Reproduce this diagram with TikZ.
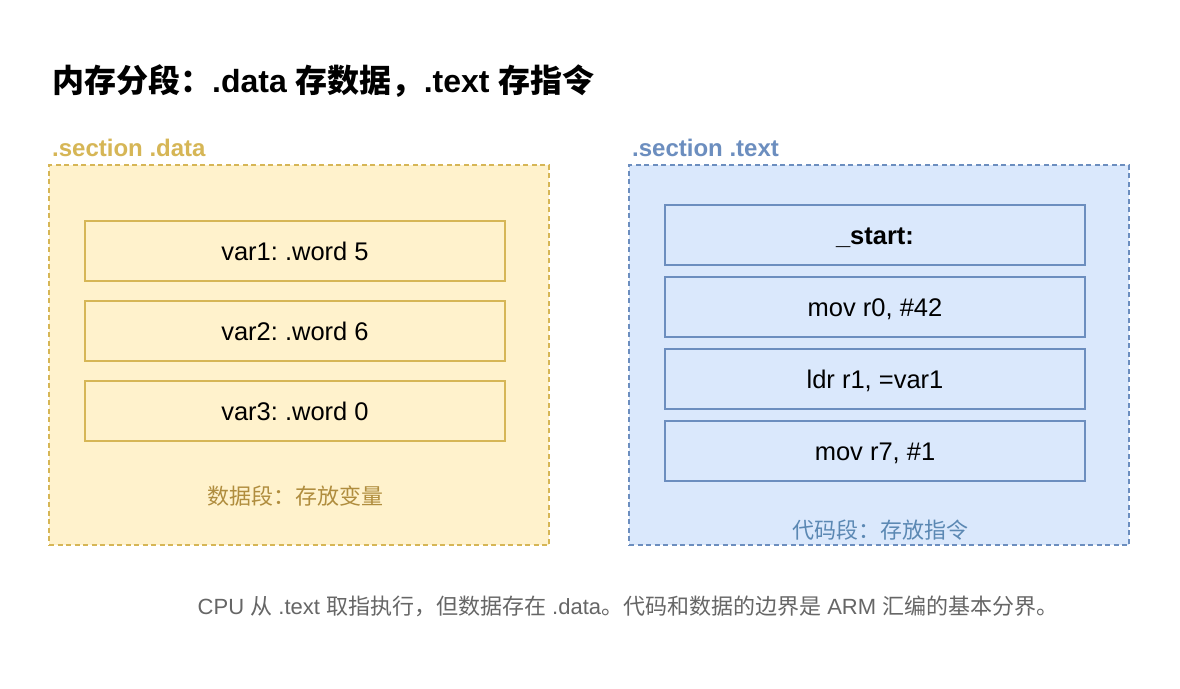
\documentclass[tikz,border=0pt]{standalone}
\usepackage{fontspec}
\setmainfont{Liberation Sans}
\newfontfamily\cjk{Noto Sans CJK SC}
\definecolor{datafill}{HTML}{FFF2CC}
\definecolor{dataline}{HTML}{D6B656}
\definecolor{datanote}{HTML}{B08D3E}
\definecolor{textfill}{HTML}{DAE8FC}
\definecolor{textline}{HTML}{6C8EBF}
\definecolor{textnote}{HTML}{5B88B3}
\definecolor{capgray}{HTML}{666666}
\frenchspacing

\begin{document}
\begin{tikzpicture}[x=1pt,y=-1pt,
  seg/.style={draw,dashed,dash pattern=on 5pt off 3.5pt,line width=1.3pt,minimum width=500pt,minimum height=380pt,inner sep=0pt},
  cell/.style={draw,line width=1.3pt,minimum width=420pt,minimum height=60pt,inner sep=0pt,text height=23pt,text depth=5pt,font=\fontsize{25.5}{30}\selectfont},
  seglabel/.style={anchor=base west,inner sep=0pt,font=\fontsize{24}{28}\selectfont\bfseries}]
\useasboundingbox[fill=white] (0,0) rectangle (1180,688);
\node[anchor=base west,inner sep=0pt,font=\fontsize{32}{36}\selectfont\bfseries] (title) at (52,92)
  {{\cjk 内存分段：}.data {\cjk 存数据，}.text {\cjk 存指令}};

% data segment
\node[seg,draw=dataline,fill=datafill] (datasec) at (299,355) {};
\node[seglabel,text=dataline] (datalbl) at (52,156) {.section .data};
\node[cell,draw=dataline] (var1) at (295,251) {var1: .word 5};
\node[cell,draw=dataline] (var2) at (295,331) {var2: .word 6};
\node[cell,draw=dataline] (var3) at (295,411) {var3: .word 0};
\node[text=datanote,font=\fontsize{22}{26}\selectfont\cjk] (datanote) at (295,496) {数据段：存放变量};

% text segment
\node[seg,draw=textline,fill=textfill] (textsec) at (879,355) {};
\node[seglabel,text=textline] (textlbl) at (632,156) {.section .text};
\node[cell,draw=textline,font=\fontsize{25.5}{30}\selectfont\bfseries] (start) at (875,235) {\_start:};
\node[cell,draw=textline] (mov0) at (875,307) {mov r0, \#42};
\node[cell,draw=textline] (ldr1) at (875,379) {ldr r1, =var1};
\node[cell,draw=textline] (mov7) at (875,451) {mov r7, \#1};
\node[text=textnote,font=\fontsize{22}{26}\selectfont\cjk] (textnote) at (880,530) {代码段：存放指令};

\node[text=capgray,font=\fontsize{22}{26}\selectfont] (caption) at (628,606)
  {CPU {\cjk 从} .text {\cjk 取指执行，但数据存在} .data{\cjk 。代码和数据的边界是} ARM {\cjk 汇编的基本分界。}};
\end{tikzpicture}
\end{document}
